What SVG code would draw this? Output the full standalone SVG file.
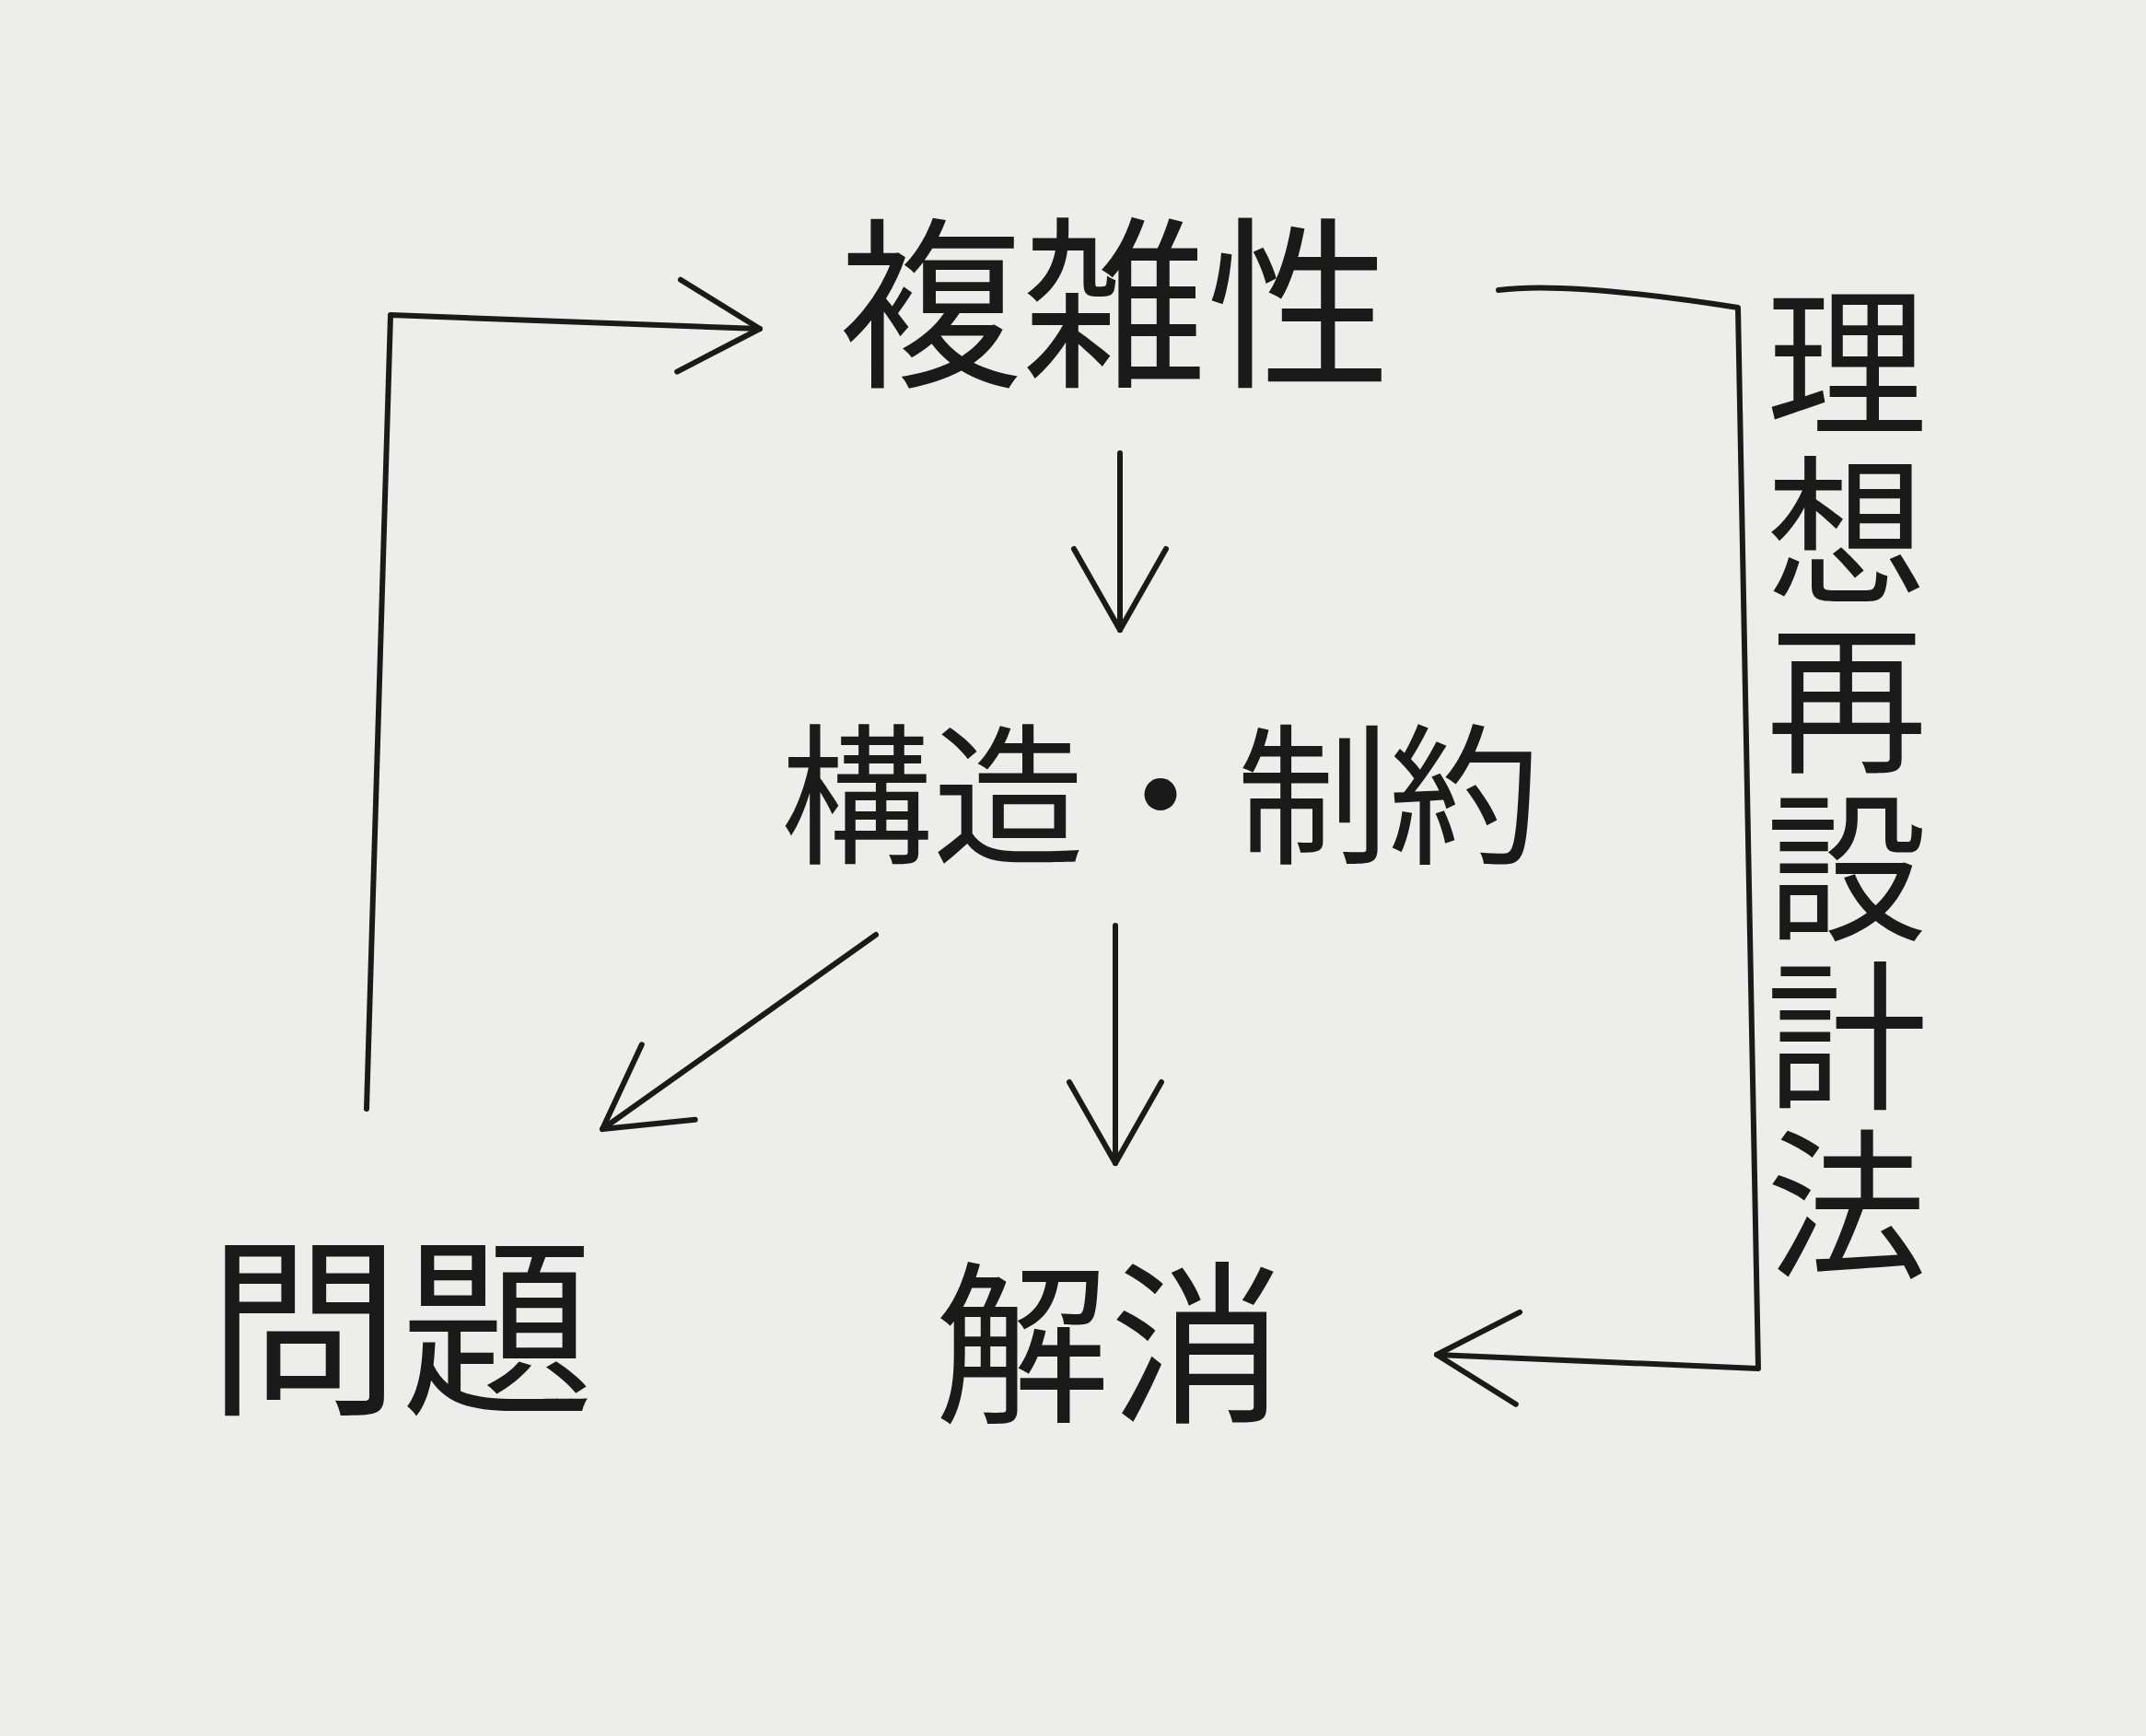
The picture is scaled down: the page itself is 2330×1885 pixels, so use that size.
<svg xmlns="http://www.w3.org/2000/svg" width="2330" height="1885" viewBox="0 0 2330 1885">
<style>
.t{font-family:"Noto Sans CJK JP","Noto Sans CJK SC",sans-serif;fill:#1a1a1a;font-weight:400}
.c{fill:none;stroke:#1a1a1a;stroke-width:6;stroke-linecap:round;stroke-linejoin:round}
</style>
<defs>
<marker id="a" viewBox="0 0 20 20" refX="18" refY="10" markerWidth="20" markerHeight="20" markerUnits="userSpaceOnUse" orient="auto" overflow="visible">
<path d="M-70,-40 L18,10 L-70,60" fill="none" stroke="#1a1a1a" stroke-width="6" stroke-linecap="round" stroke-linejoin="round"/>
</marker>
</defs>
<rect width="2330" height="1885" fill="#ededeb"/>
<g id="n1"><text class="t" x="1210" y="405" font-size="200" text-anchor="middle">複雑性</text></g>
<g id="n2"><text class="t" x="1260" y="925" font-size="165" text-anchor="middle">構造・制約</text></g>
<g id="n3"><text class="t" x="435" y="1520" font-size="210" text-anchor="middle">問題</text></g>
<g id="n4"><text class="t" x="1205" y="1530" font-size="190" text-anchor="middle">解消</text></g>
<g id="n5"><text class="t" x="2005" y="305" font-size="175" style="writing-mode:vertical-rl" letter-spacing="8">理想再設計法</text></g>
<g id="connectors">
<path class="c" d="M1216,492 L1216,684" marker-end="url(#a)"/>
<path class="c" d="M1211,1005 L1211,1263" marker-end="url(#a)"/>
<path class="c" d="M951,1015 L654,1226" marker-end="url(#a)"/>
<path class="c" d="M398,1204 L424,342 L825,357" marker-end="url(#a)"/>
<path class="c" d="M1627,315 Q1700,305 1887,334 L1909,1486 L1560,1471" marker-end="url(#a)"/>
</g>
</svg>
